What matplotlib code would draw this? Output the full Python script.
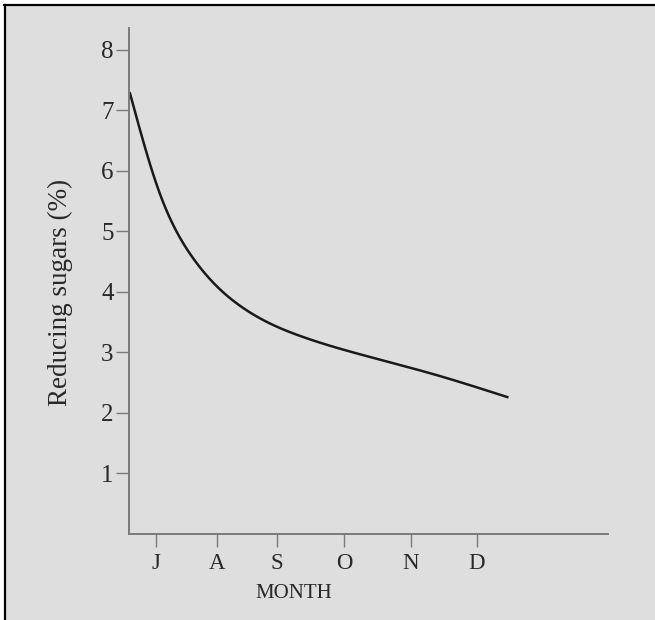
import matplotlib
matplotlib.use("Agg")
import matplotlib.pyplot as plt
from matplotlib.patches import Rectangle
import numpy as np

# Month ticks (positions on the month axis)
months = ["J", "A", "S", "O", "N", "D"]
month_pos = [1.0, 1.95, 2.885, 3.93, 4.97, 6.0]

# Reducing sugar curve (month position, %)
curve_x = [0.59, 1.04, 1.56, 2.33, 3.29, 4.33, 5.37, 6.49]
curve_y = [7.30, 5.68, 4.58, 3.75, 3.25, 2.92, 2.62, 2.25]

y_ticks = [1, 2, 3, 4, 5, 6, 7, 8]


def natural_spline(x, y, xn):
    """Natural cubic spline through (x, y) evaluated at xn."""
    x = np.asarray(x, float)
    y = np.asarray(y, float)
    n = len(x)
    h = np.diff(x)
    A = np.zeros((n, n))
    r = np.zeros(n)
    A[0, 0] = A[-1, -1] = 1.0
    for i in range(1, n - 1):
        A[i, i - 1] = h[i - 1]
        A[i, i] = 2 * (h[i - 1] + h[i])
        A[i, i + 1] = h[i]
        r[i] = 6 * ((y[i + 1] - y[i]) / h[i] - (y[i] - y[i - 1]) / h[i - 1])
    M = np.linalg.solve(A, r)
    idx = np.clip(np.searchsorted(x, xn) - 1, 0, n - 2)
    x0, x1 = x[idx], x[idx + 1]
    hk = h[idx]
    a = (x1 - xn) / hk
    b = (xn - x0) / hk
    return (a * y[idx] + b * y[idx + 1]
            + ((a**3 - a) * M[idx] + (b**3 - b) * M[idx + 1]) * hk**2 / 6)


W, H = 655, 620
fig = plt.figure(figsize=(W / 100, H / 100), dpi=100)
fig.patch.set_facecolor("white")

bg = "#dedede"
panel = Rectangle((4 / W, -0.05), 1.1, 1 - 4 / H + 0.05,
                  transform=fig.transFigure, facecolor=bg,
                  edgecolor="none", zorder=-10)
fig.patches.append(panel)
fig.add_artist(plt.Line2D([4 / W, 1.0], [1 - 4.5 / H, 1 - 4.5 / H],
                          transform=fig.transFigure, color="black", lw=1.6))
fig.add_artist(plt.Line2D([4.5 / W, 4.5 / W], [0.0, 1 - 4.5 / H],
                          transform=fig.transFigure, color="black", lw=1.6))

ax = fig.add_axes([129 / W, 1 - 533.5 / H, (608 - 129) / W, (533.5 - 28) / H])
ax.set_facecolor("none")

xn = np.linspace(curve_x[0], curve_x[-1], 500)
ax.plot(xn, natural_spline(curve_x, curve_y, xn), color="#1a1a1a", lw=1.8,
        solid_capstyle="butt")

ax.set_xlim(0.58, 8.04)
ax.set_ylim(0, 8.36)

for side in ("top", "right"):
    ax.spines[side].set_visible(False)
for side in ("left", "bottom"):
    ax.spines[side].set_color("#7a7a7a")
    ax.spines[side].set_linewidth(1.4)

serif = "Liberation Serif"
txt = "#282828"
ax.set_yticks(y_ticks)
ax.set_yticklabels([str(v) for v in y_ticks], family=serif, fontsize=18,
                   color=txt)
ax.set_xticks(month_pos)
ax.set_xticklabels(months, family=serif, fontsize=16.5, color=txt)
ax.tick_params(axis="y", length=9.5, width=1.0, color="#7a7a7a", pad=1.5)
ax.tick_params(axis="x", length=9, width=1.0, color="#7a7a7a", pad=5)

fig.text(293.5 / W, 1 - 594 / H, "MONTH", family=serif, fontsize=15,
         color=txt, ha="center", va="center")
fig.text(60 / W, 1 - 292 / H, "Reducing sugars (%)", family=serif,
         fontsize=19.5, color=txt, ha="center", va="center",
         rotation=90)

fig.savefig("out.png", dpi=100, facecolor=fig.get_facecolor())
